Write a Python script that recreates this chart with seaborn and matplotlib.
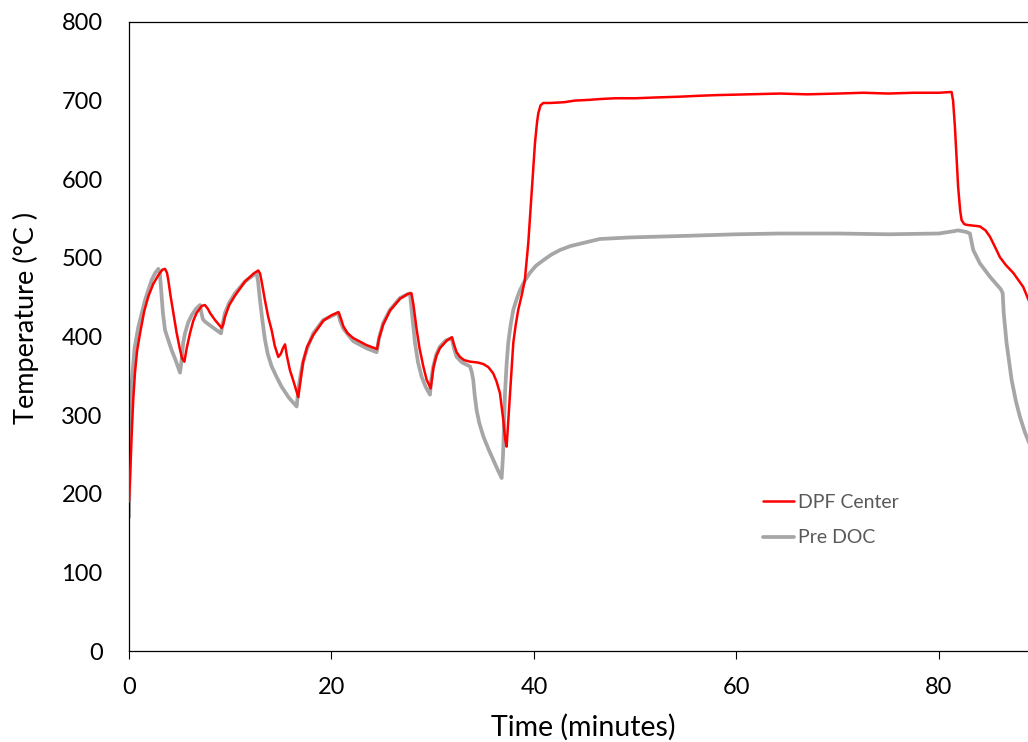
import matplotlib
matplotlib.use("Agg")
import matplotlib.pyplot as plt
import seaborn as sns
import pandas as pd

# ---- data ----
dpf_time = [0, 0.15, 0.27, 0.42, 0.59, 0.8, 1.09, 1.5, 1.91, 2.4, 2.9, 3.3, 3.56, 3.75, 3.88, 4.1,
            4.38, 4.7, 5.04, 5.25, 5.47, 5.7, 6.02, 6.35, 6.68, 7.2, 7.5, 7.8, 8.0, 8.49, 9.15, 9.3,
            9.48, 9.9, 10.47, 11.46, 12.3, 12.77, 12.95, 13.1, 13.43, 13.75, 14.09, 14.4, 14.75,
            15.0, 15.2, 15.41, 15.6, 15.9, 16.2, 16.56, 16.72, 16.95, 17.2, 17.6, 18.2, 19.19, 20.0,
            20.7, 20.95, 21.17, 21.6, 22.15, 23.47, 24.5, 24.7, 25.1, 25.78, 26.77, 27.5, 27.9, 28.1,
            28.4, 28.7, 29.07, 29.4, 29.8, 29.95, 30.06, 30.35, 30.7, 31.4, 31.9, 32.1, 32.36, 32.69,
            33.1, 33.68, 34.4, 35.0, 35.5, 35.98, 36.3, 36.64, 36.97, 37.15, 37.3, 37.45, 37.63,
            37.96, 38.2, 38.45, 38.8, 39.1, 39.44, 39.77, 40.1, 40.3, 40.43, 40.65, 40.92, 41.58,
            43.0, 44.0, 45.5, 46.5, 48.0, 50.0, 52.0, 54.4, 56.0, 58.0, 61.0, 64.3, 67.0, 70.0,
            72.5, 75.0, 77.5, 80.0, 81.25, 81.4, 81.58, 81.9, 82.1, 82.24, 82.5, 82.73, 84.05, 84.6,
            85.04, 85.5, 86.02, 86.6, 87.34, 88.33, 88.9]
dpf_temp = [190, 235, 277, 320, 354, 382, 404, 432, 451, 467, 478, 485, 486, 481, 472, 452,
            430, 405, 383, 372, 368, 385, 404, 420, 430, 439, 440, 435, 430, 421, 411, 415,
            425, 440, 452, 470, 480, 484, 480, 470, 446, 425, 408, 388, 374,
            378, 385, 390, 375, 357, 345, 330, 323, 345, 368, 387, 402, 420, 427,
            431, 422, 413, 404, 398, 389, 384, 398, 415, 433, 448, 454, 455, 440,
            410, 385, 362, 345, 334, 348, 360, 375, 385, 395, 399, 390, 380, 374,
            370, 368, 367, 365, 361, 353, 343, 328, 294, 270, 260, 290, 328,
            392, 415, 434, 453, 472, 519, 582, 646, 672, 684, 694, 697, 697,
            698, 700, 701, 702, 703, 703, 704, 705, 706, 707, 708, 709, 708, 709,
            710, 709, 710, 710, 711, 700, 667, 590, 560, 548, 543, 542, 540, 535,
            527, 515, 501, 491, 481, 463, 445]

pre_time = [0, 0.1, 0.27, 0.55, 0.92, 1.58, 2.24, 2.6, 2.9, 3.05, 3.2, 3.35, 3.56, 4.2, 4.6, 5.04,
            5.2, 5.35, 5.53, 5.85, 6.19, 6.6, 7.01, 7.15, 7.3, 7.5, 8.33, 9.09, 9.2, 9.48, 9.9, 10.47,
            11.46, 12.6, 12.75, 12.94, 13.2, 13.43, 13.7, 14.09, 14.6, 15.08, 15.8, 16.56, 16.75,
            17.0, 17.2, 17.6, 18.2, 19.19, 20.67, 20.85, 21.17, 22.15, 23.47, 24.46, 24.7, 25.1,
            25.78, 26.77, 27.75, 27.95, 28.25, 28.55, 28.9, 29.3, 29.73, 29.85, 30.06, 30.35, 30.7,
            31.3, 31.87, 32.1, 32.36, 32.9, 33.68, 33.85, 34.0, 34.15, 34.34, 34.6, 35.0, 35.5,
            35.98, 36.4, 36.81, 36.95, 37.14, 37.3, 37.46, 37.7, 37.96, 38.3, 38.62, 39.1, 39.6,
            40.2, 40.92, 41.7, 42.57, 43.6, 44.87, 46.5, 49.5, 55.0, 60.0, 64.3, 70.0, 75.0, 80.0,
            81.5, 81.9, 82.7, 83.06, 83.2, 83.39, 84.05, 85.04, 86.12, 86.3, 86.4, 86.68, 87.18,
            87.6, 88.0, 88.5, 88.9]
pre_temp = [170, 280, 341, 385, 412, 446, 472, 481, 486, 480, 455, 430, 408, 383, 370, 354,
            370, 392, 404, 418, 427, 435, 440, 430, 422, 419, 411, 404, 413, 430, 443, 455,
            470, 481, 470, 446, 418, 396, 378, 362, 348, 336, 322, 311, 335,
            355, 368, 385, 404, 421, 430, 420, 410, 394, 385, 380, 398, 417,
            434, 449, 455, 430, 392, 367, 349, 336, 326, 345, 362, 377, 387,
            395, 398, 385, 374, 367, 362, 355, 345, 325, 306, 290, 273, 257,
            243, 231, 220, 250, 328, 365, 392, 415, 434, 448, 459, 471, 481,
            490, 497, 504, 510, 515, 519, 524, 526, 528, 530, 531, 531, 530, 531,
            534, 535, 533, 531, 522, 510, 493, 476, 460, 455, 430, 392, 345,
            318, 298, 278, 265]

series_names = ["DPF Center", "Pre DOC"]
series_colors = ["#FF0000", "#A6A6A6"]
x_ticks = [0, 20, 40, 60, 80]
y_ticks = [0, 100, 200, 300, 400, 500, 600, 700, 800]

df = pd.concat([
    pd.DataFrame({"Time": dpf_time, "Temp": dpf_temp, "Series": series_names[0]}),
    pd.DataFrame({"Time": pre_time, "Temp": pre_temp, "Series": series_names[1]}),
], ignore_index=True)

sns.set_style("white")
plt.rcParams["font.family"] = ["Lato", "DejaVu Sans"]

fig = plt.figure(figsize=(10.28, 7.42), dpi=100)
ax = fig.add_axes([129 / 1028, 1 - 651 / 742, 1 - 129 / 1028, (651 - 22) / 742])

sns.lineplot(data=df, x="Time", y="Temp", hue="Series", palette=series_colors,
             hue_order=series_names, sort=False, estimator=None, ax=ax, legend=False)
lines = ax.get_lines()
lines[0].set_linewidth(1.8)
lines[1].set_linewidth(2.7)
lines[0].set_zorder(3)
lines[1].set_zorder(2)
for ln in lines[:2]:
    ln.set_solid_joinstyle("round")
    ln.set_solid_capstyle("round")

ax.set_xlim(0, 88.8)
ax.set_ylim(0, 800)
ax.set_xticks(x_ticks)
ax.set_yticks(y_ticks)
ax.tick_params(axis="x", direction="out", length=6, width=0.8, color="black",
               labelsize=17, pad=13, bottom=True)
ax.tick_params(axis="y", length=0, labelsize=17, pad=19)
for lab in ax.get_xticklabels() + ax.get_yticklabels():
    lab.set_color("black")

ax.set_xlabel("Time (minutes)", fontsize=20.5, color="black")
ax.set_ylabel("Temperature (°C )", fontsize=19.5, color="black")
ax.xaxis.set_label_coords((583 - 129) / (1028 - 129), (651 - 727) / 629)
ax.yaxis.set_label_coords((26 - 129) / (1028 - 129), (651 - 318) / 629)
ax.xaxis.label.set_va("center")
ax.yaxis.label.set_va("center")

for side in ["left", "bottom", "top"]:
    ax.spines[side].set_visible(True)
    ax.spines[side].set_color("black")
    ax.spines[side].set_linewidth(0.9)
ax.spines["right"].set_visible(False)

leg = ax.legend(lines[:2], series_names, loc="upper left",
                bbox_to_anchor=((763 - 129) / (1028 - 129), (651 - 494) / 629),
                frameon=False, fontsize=14, handlelength=1.6, handletextpad=0.2,
                labelspacing=0.95, borderpad=0, borderaxespad=0)
for t in leg.get_texts():
    t.set_color("#595959")

fig.savefig("out.png", dpi=100)
